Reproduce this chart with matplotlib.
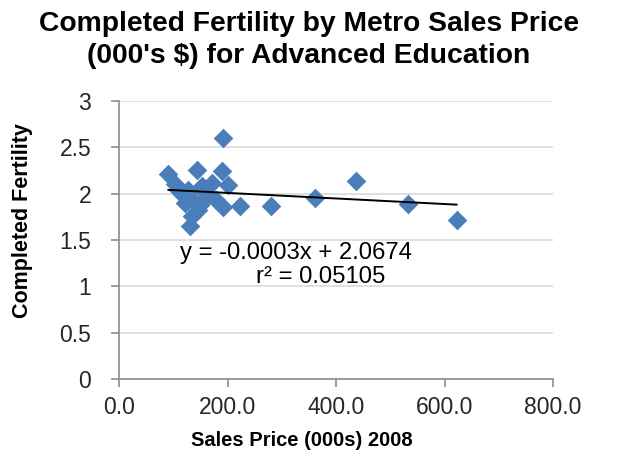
import numpy as np
import matplotlib
matplotlib.use('Agg')
import matplotlib.pyplot as plt

plt.rcParams['font.family'] = ['Liberation Sans', 'DejaVu Sans']

# Metro sales price (000s $, 2008) vs completed fertility, advanced education
price = [91, 103, 116, 122, 127, 131, 134, 140, 143, 146, 152, 164, 171,
         189, 191, 192, 201, 223, 281, 361, 437, 533, 622,
         110, 125, 137, 158, 178, 150, 120]
fert = [2.21, 2.10, 2.00, 1.90, 2.04, 1.65, 1.76, 1.91, 2.25, 1.82, 2.08, 1.97, 2.11,
        2.24, 2.60, 1.85, 2.09, 1.87, 1.87, 1.95, 2.14, 1.89, 1.72,
        2.03, 1.96, 1.93, 2.02, 1.93, 1.88, 1.98]
slope, intercept = -0.0003, 2.0674
r2 = 0.05105

xticks = [0, 200, 400, 600, 800]
yticks = [0, 0.5, 1, 1.5, 2, 2.5, 3]

fig = plt.figure(figsize=(6.18, 4.65), dpi=100)
ax = fig.add_axes([0.1926, 0.185, 0.7024, 0.598])

ax.scatter(price, fert, marker='D', s=100, color='#4a7ebb', zorder=3, linewidths=0)

xl = np.array([min(price), max(price)])
ax.plot(xl, slope * xl + intercept, color='black', lw=1.4, zorder=4)

ax.set_xlim(0, 800)
ax.set_ylim(0, 3)
ax.set_xticks(xticks)
ax.set_xticklabels([f'{v:.1f}' for v in xticks])
ax.set_yticks(yticks)
ax.set_yticklabels(['0', '0.5', '1', '1.5', '2', '2.5', '3'])
ax.grid(axis='y', color='#d9d9d9', lw=1.2)
ax.set_axisbelow(True)
for s in ['top', 'right']:
    ax.spines[s].set_visible(False)
for s in ['left', 'bottom']:
    ax.spines[s].set_color('#8c8c8c')
    ax.spines[s].set_linewidth(1.2)
ax.tick_params(direction='out', length=6, color='#8c8c8c', width=1.2,
               labelsize=16.5, labelcolor='#262626')
ax.tick_params(axis='y', pad=14)
ax.tick_params(axis='x', pad=6)

ax.text(112, 1.36, f'y = {slope:.4f}x + {intercept:.4f}', fontsize=17.2,
        va='center', ha='left')
ax.text(252, 1.10, f'r² = {r2}', fontsize=17.2, va='center', ha='left')

fig.text(302 / 618, 1 - 440 / 465, 'Sales Price (000s) 2008', fontsize=14.5,
         fontweight='bold', ha='center', va='center')
fig.text(23 / 618, 1 - 221 / 465, 'Completed Fertility', fontsize=15.5,
         fontweight='bold', ha='center', va='center', rotation=90)
fig.text(0.5, 1 - 40 / 465, "Completed Fertility by Metro Sales Price\n(000's $) for Advanced Education",
         fontsize=20.3, fontweight='bold', ha='center', va='center', linespacing=1.3)

fig.savefig('out.png', dpi=100)
